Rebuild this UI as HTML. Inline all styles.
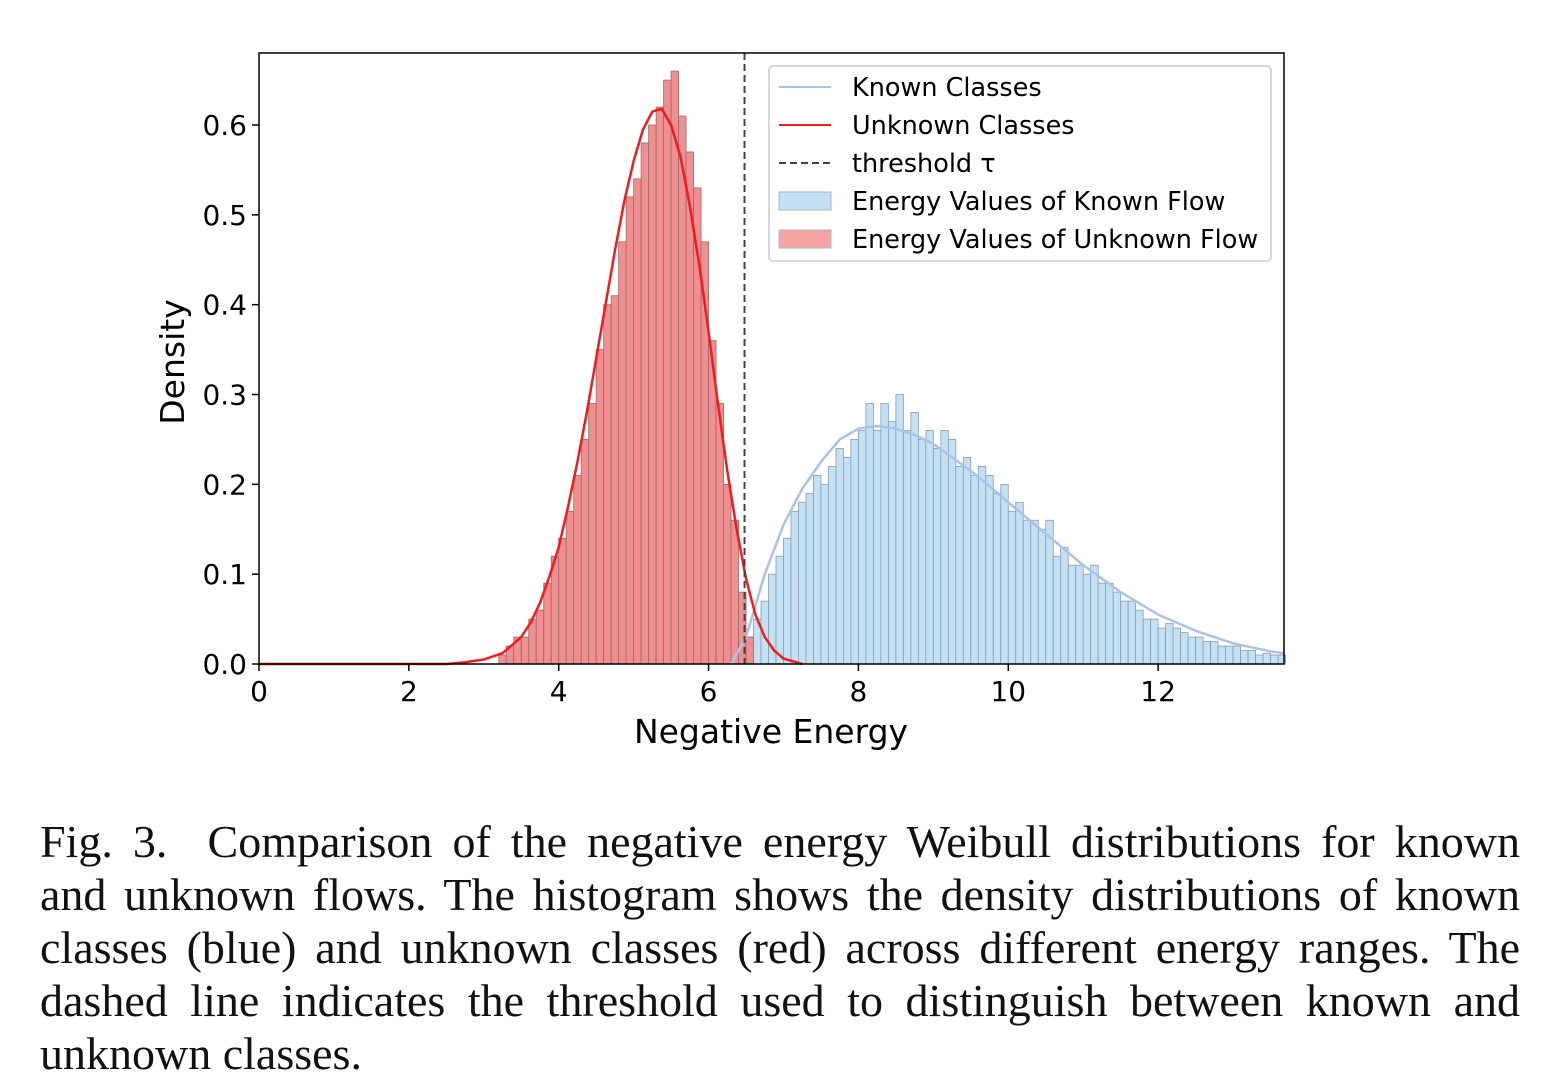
<!DOCTYPE html>
<html><head><meta charset="utf-8"><style>
body{margin:0;background:#fff;width:1557px;height:1085px;overflow:hidden;position:relative}
svg{position:absolute;left:0;top:0}
.cap{position:absolute;left:40px;width:1480px;font-family:"Liberation Serif",serif;font-size:46px;color:#111}
.ln{position:absolute;left:0;width:1480px;text-align:justify;text-align-last:justify;white-space:nowrap;line-height:53px}
.ln.last{text-align-last:left}
</style></head><body>
<svg id="chart" width="1557" height="800"></svg>
<div class="cap" style="top:815px">
<div class="ln" style="top:0">Fig. 3.&nbsp; Comparison of the negative energy Weibull distributions for known</div>
<div class="ln" style="top:53px">and unknown flows. The histogram shows the density distributions of known</div>
<div class="ln" style="top:106px">classes (blue) and unknown classes (red) across different energy ranges. The</div>
<div class="ln" style="top:159px">dashed line indicates the threshold used to distinguish between known and</div>
<div class="ln last" style="top:212px">unknown classes.</div>
</div>
<script>
const redStart=3.2, binW=0.1;
const redBins=[0.01,0.02,0.03,0.03,0.05,0.06,0.09,0.12,0.14,0.17,0.21,0.25,0.29,0.35,0.40,0.41,0.47,0.52,0.54,0.58,0.60,0.62,0.65,0.66,0.61,0.57,0.53,0.47,0.36,0.29,0.20,0.16,0.08,0.03];
const blueStart=6.4;
const blueBins=[0.01,0.03,0.05,0.07,0.10,0.12,0.14,0.17,0.18,0.19,0.21,0.20,0.22,0.24,0.23,0.25,0.26,0.29,0.26,0.29,0.27,0.30,0.26,0.28,0.25,0.26,0.24,0.26,0.25,0.22,0.23,0.21,0.22,0.21,0.19,0.20,0.17,0.18,0.16,0.16,0.15,0.16,0.12,0.13,0.11,0.11,0.10,0.11,0.09,0.09,0.08,0.07,0.07,0.06,0.05,0.05,0.04,0.045,0.04,0.035,0.03,0.03,0.025,0.025,0.02,0.02,0.02,0.015,0.015,0.01,0.012,0.01,0.01];
const redCurveX=[0,2.5,2.75,3.0,3.25,3.5,3.625,3.75,3.875,4.0,4.125,4.25,4.375,4.5,4.625,4.75,4.875,5.0,5.125,5.25,5.375,5.5,5.625,5.75,5.875,6.0,6.125,6.25,6.375,6.5,6.625,6.75,6.875,7.0,7.25];
const redCurveY=[0,0,0.002,0.005,0.012,0.03,0.046,0.068,0.097,0.13,0.175,0.225,0.28,0.34,0.40,0.46,0.515,0.56,0.595,0.615,0.618,0.60,0.565,0.51,0.445,0.37,0.29,0.215,0.15,0.095,0.055,0.03,0.015,0.006,0];
const blueCurveX=[6.3,6.5,6.75,7.0,7.25,7.5,7.75,8.0,8.25,8.5,8.75,9.0,9.25,9.5,9.75,10.0,10.5,11.0,11.5,12.0,12.5,13.0,13.5,13.68];
const blueCurveY=[0,0.03,0.10,0.155,0.195,0.225,0.25,0.262,0.265,0.262,0.255,0.245,0.23,0.215,0.198,0.18,0.145,0.11,0.08,0.055,0.037,0.023,0.014,0.012];
const threshold=6.48;
const xTicks=[0,2,4,6,8,10,12];
const yTicks=[0,0.1,0.2,0.3,0.4,0.5,0.6];
const L=259,R=1284,T=53,B=664,XMAX=13.68;
const X=v=>L+v*(R-L)/XMAX, Y=v=>B-v*898.3;
const svg=document.getElementById('chart'),NS='http://www.w3.org/2000/svg';
function mk(t,a,p){const e=document.createElementNS(NS,t);for(const k in a)e.setAttribute(k,a[k]);(p||svg).appendChild(e);return e;}
function bars(start,arr,fill,stroke,name){arr.forEach((v,i)=>{const x0=X(start+i*binW),x1=X(start+(i+1)*binW);
const r=mk('rect',{x:x0,y:Y(v),width:x1-x0,height:B-Y(v),fill:fill,stroke:stroke,'stroke-width':0.8});

});}
bars(blueStart,blueBins,'#c3e1f5','#8e9ba6','blue-bar');
bars(redStart,redBins,'#f08f8f','#9a6b6b','red-bar');
function line(xs,ys,col,w,name){const p=mk('polyline',{points:xs.map((x,i)=>X(x)+','+Y(ys[i])).join(' '),fill:'none',stroke:col,'stroke-width':w,'stroke-linejoin':'round'});

}
line(blueCurveX,blueCurveY,'#a9c3e8',2.5,'known-classes-curve');
line(redCurveX,redCurveY,'#ee1c1c',2.5,'unknown-classes-curve');
const th=mk('line',{x1:X(threshold),x2:X(threshold),y1:T,y2:B,stroke:'#444','stroke-width':2,'stroke-dasharray':'7,4'});


const fr=mk('rect',{x:L,y:T,width:R-L,height:B-T,fill:'none',stroke:'#000','stroke-width':1.5});


const ff='DejaVu Sans, sans-serif';
xTicks.forEach(v=>{mk('line',{x1:X(v),x2:X(v),y1:B,y2:B+7,stroke:'#000','stroke-width':1.5});
const t=mk('text',{x:X(v),y:B+37,'text-anchor':'middle','font-family':ff,'font-size':28});t.textContent=v;

});
yTicks.forEach(v=>{mk('line',{x1:L-7,x2:L,y1:Y(v),y2:Y(v),stroke:'#000','stroke-width':1.5});
const t=mk('text',{x:L-12,y:Y(v)+10,'text-anchor':'end','font-family':ff,'font-size':28});t.textContent=v.toFixed(1);

});
const xl=mk('text',{x:771,y:743,'text-anchor':'middle','font-family':ff,'font-size':33});xl.textContent='Negative Energy';


const yl=mk('text',{x:0,y:0,'text-anchor':'middle','font-family':ff,'font-size':33,transform:'translate(184,362) rotate(-90)'});yl.textContent='Density';


const lg=mk('g',{});


mk('rect',{x:769,y:66,width:502,height:195,rx:4,fill:'#fff','fill-opacity':0.85,stroke:'#ccc','stroke-width':1.5},lg);
const items=[['line','#a9c3e8','Known Classes'],['line','#ee1c1c','Unknown Classes'],['dash','#444','threshold τ'],['box','#c3e1f5','Energy Values of Known Flow'],['box','#f5a3a3','Energy Values of Unknown Flow']];
items.forEach((it,i)=>{const cy=87+i*38;
if(it[0]==='box')mk('rect',{x:779,y:cy-9,width:52,height:18,fill:it[1],stroke:'#a8b8c4','stroke-width':1},lg);
else mk('line',{x1:779,x2:831,y1:cy,y2:cy,stroke:it[1],'stroke-width':2,'stroke-dasharray':it[0]==='dash'?'7,4':'none'},lg);
const t=mk('text',{x:852,y:cy+9,'font-family':ff,'font-size':25.5},lg);t.textContent=it[2];

});
</script>
</body></html>
